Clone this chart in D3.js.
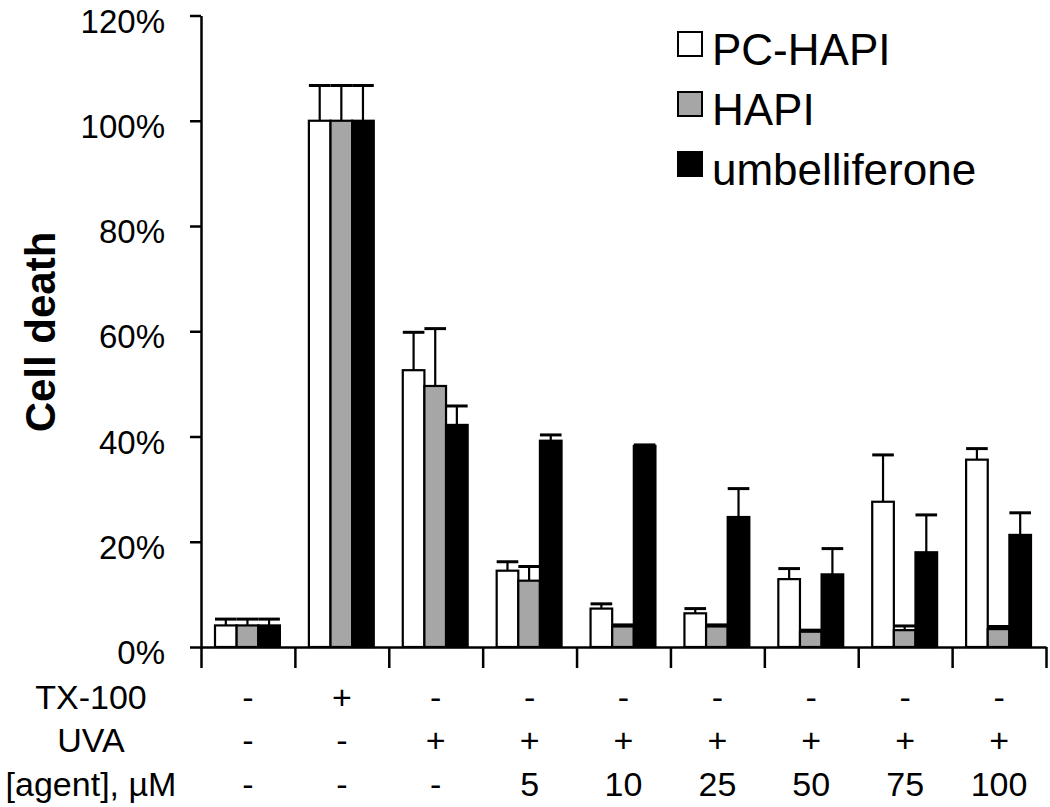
<!DOCTYPE html>
<html>
<head>
<meta charset="utf-8">
<script src="https://cdn.jsdelivr.net/npm/d3@7"></script>
<style>
  body { margin: 0; background: #fff; }
  text { font-family: "Liberation Sans", Arial, sans-serif; fill: #000; }
</style>
</head>
<body>
<svg id="chart" width="1050" height="807"></svg>
<script>
// data (percent cell death)
var groups = ["g1", "g2", "g3", "g4", "g5", "g6", "g7", "g8", "g9"];
var seriesNames = ["PC-HAPI", "HAPI", "umbelliferone"];
var seriesColors = ["#ffffff", "#a6a6a6", "#000000"];

var pcHapi = [4.1, 100, 52.6, 14.5, 7.3, 6.4, 12.9, 27.6, 35.6];
var pcHapiErr = [1.2, 6.7, 7.2, 1.7, 0.9, 0.9, 2.0, 8.9, 2.1];
var hapi = [4.1, 100, 49.6, 12.6, 3.9, 3.9, 2.9, 3.2, 3.4];
var hapiErr = [1.2, 6.7, 10.9, 2.7, 0.3, 0.3, 0.3, 0.8, 0.5];
var umbel = [4.1, 100, 42.2, 39.2, 38.2, 24.7, 13.8, 18.0, 21.3];
var umbelErr = [1.2, 6.7, 3.6, 1.1, 0.2, 5.4, 4.9, 7.1, 4.2];

var yTicks = [0, 20, 40, 60, 80, 100, 120];

var rowLabels = ["TX-100", "UVA", "[agent], \u00b5M"];
var txRow = ["-", "+", "-", "-", "-", "-", "-", "-", "-"];
var uvaRow = ["-", "-", "+", "+", "+", "+", "+", "+", "+"];
var agentRow = ["-", "-", "-", "5", "10", "25", "50", "75", "100"];

var values = [pcHapi, hapi, umbel];
var errors = [pcHapiErr, hapiErr, umbelErr];
var rows = [txRow, uvaRow, agentRow];

var svg = d3.select("#chart");

var plotLeft = 201, plotRight = 1046, plotTop = 15.5, plotBottom = 647;

var x0 = d3.scaleBand().domain(groups).range([plotLeft, plotRight]);
var x1 = d3.scaleBand().domain(seriesNames).range([14, x0.bandwidth() - 15]);
var y = d3.scaleLinear().domain([0, 120]).range([plotBottom, plotTop]);
var xIdx = d3.scaleLinear().domain([0, groups.length]).range([plotLeft, plotRight]);

// bars
var data = [];
groups.forEach(function(g, i) {
  seriesNames.forEach(function(s, j) {
    data.push({ group: g, series: s, j: j, value: values[j][i], err: errors[j][i] });
  });
});

var bar = svg.selectAll(".bar")
    .data(data)
  .enter().append("g")
    .attr("class", "bar")
    .attr("transform", function(d) { return "translate(" + (x0(d.group) + x1(d.series)) + ",0)"; });

// error bars (upward only)
bar.append("line")
    .attr("x1", x1.bandwidth() / 2)
    .attr("x2", x1.bandwidth() / 2)
    .attr("y1", function(d) { return y(d.value); })
    .attr("y2", function(d) { return y(d.value + d.err); })
    .attr("stroke", "#000")
    .attr("stroke-width", 2.2);

bar.append("line")
    .attr("x1", 0)
    .attr("x2", x1.bandwidth())
    .attr("y1", function(d) { return y(d.value + d.err); })
    .attr("y2", function(d) { return y(d.value + d.err); })
    .attr("stroke", "#000")
    .attr("stroke-width", 3);

bar.append("rect")
    .attr("x", 0)
    .attr("width", x1.bandwidth())
    .attr("y", function(d) { return y(d.value); })
    .attr("height", function(d) { return plotBottom - y(d.value); })
    .attr("fill", function(d) { return seriesColors[d.j]; })
    .attr("stroke", "#000")
    .attr("stroke-width", 2.2);

// y axis
var yAxis = svg.append("g")
    .attr("transform", "translate(" + plotLeft + ",0)")
    .call(d3.axisLeft(y)
      .tickValues(yTicks)
      .tickSize(11)
      .tickSizeOuter(0)
      .tickPadding(25)
      .tickFormat(function(d) { return d + "%"; }));
yAxis.selectAll("text")
    .attr("dy", "0.5em")
    .style("font-size", "33px")
    .style("font-family", "'Liberation Sans', Arial, sans-serif");
yAxis.selectAll("line").attr("stroke-width", 2.5);
yAxis.select(".domain").attr("stroke-width", 2.5);

// x axis (tick marks only, at group boundaries)
var xAxis = svg.append("g")
    .attr("transform", "translate(0," + plotBottom + ")")
    .call(d3.axisBottom(xIdx)
      .tickValues(d3.range(groups.length + 1))
      .tickSize(21)
      .tickSizeOuter(0)
      .tickFormat(""));
xAxis.selectAll("line").attr("stroke-width", 2.5);
xAxis.select(".domain").attr("stroke-width", 2.5);

// y title
svg.append("text")
    .attr("transform", "translate(55,332) rotate(-90)")
    .attr("text-anchor", "middle")
    .style("font-size", "42px")
    .style("font-weight", "bold")
    .text("Cell death");

// condition table under the axis
var rowBase = [709, 752, 796];
rowLabels.forEach(function(lbl, r) {
  svg.append("text")
      .attr("x", 91)
      .attr("y", rowBase[r])
      .attr("text-anchor", "middle")
      .style("font-size", "34px")
      .text(lbl);

  svg.selectAll(".cell" + r)
      .data(rows[r])
    .enter().append("text")
      .attr("class", "cell" + r)
      .attr("x", function(d, i) { return x0(groups[i]) + x0.bandwidth() / 2; })
      .attr("y", rowBase[r])
      .attr("text-anchor", "middle")
      .style("font-size", "34px")
      .text(function(d) { return d; });
});

// legend
var legend = svg.selectAll(".legend")
    .data(seriesNames)
  .enter().append("g")
    .attr("class", "legend")
    .attr("transform", function(d, i) { return "translate(678," + (32 + i * 60) + ")"; });

legend.append("rect")
    .attr("width", 24)
    .attr("height", 24)
    .attr("fill", function(d, i) { return seriesColors[i]; })
    .attr("stroke", "#000")
    .attr("stroke-width", 2);

legend.append("text")
    .attr("x", 34)
    .attr("y", 33)
    .style("font-size", "44px")
    .text(function(d) { return d; });
</script>
</body>
</html>
